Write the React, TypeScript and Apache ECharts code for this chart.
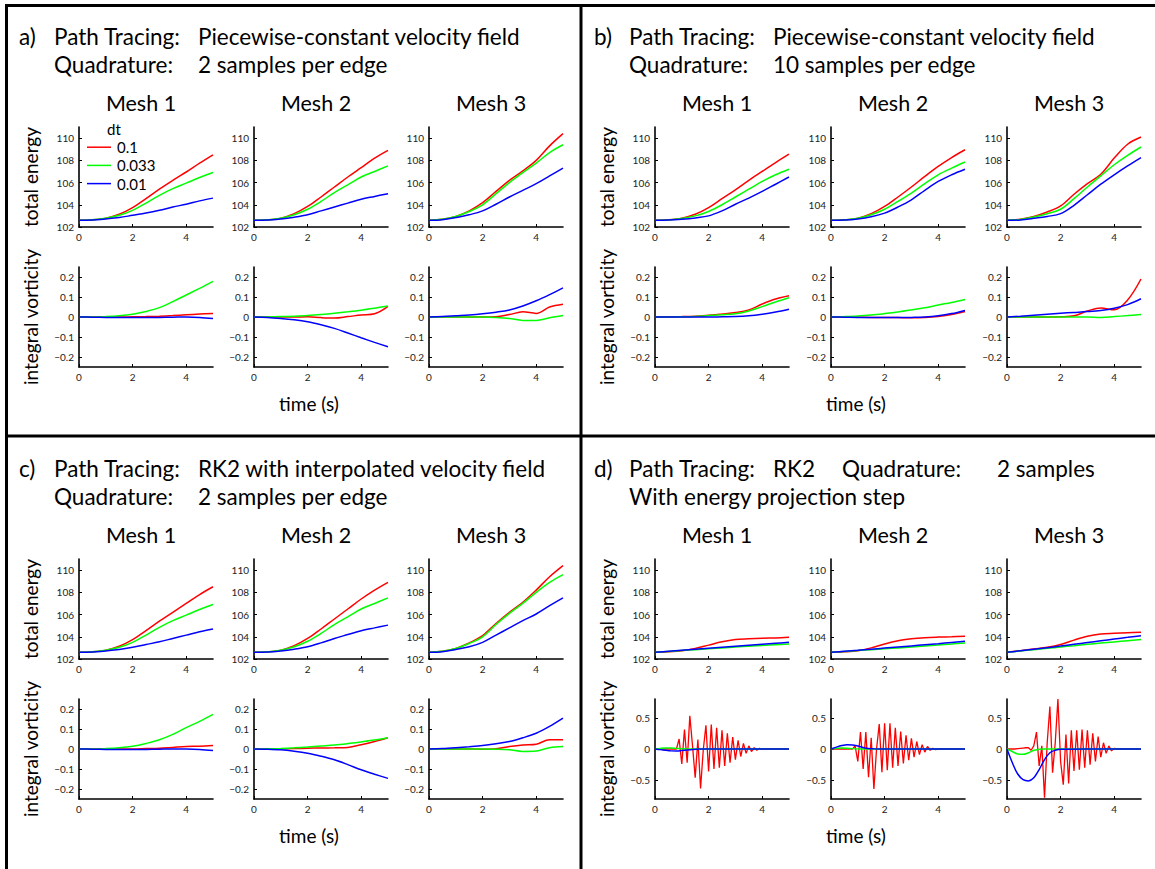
import React, { useEffect, useRef } from "react";
import * as echarts from "echarts";

// ---------- time grids ----------
const TIME = [0, 0.5, 1, 1.5, 2, 2.5, 3, 3.5, 4, 4.5, 5];
const TIME_FINE = [
  0, 0.1, 0.2, 0.3, 0.4, 0.5, 0.6, 0.7, 0.8, 0.9, 1, 1.1, 1.2, 1.3, 1.4, 1.5, 1.6, 1.7, 1.8, 1.9, 2,
  2.1, 2.2, 2.3, 2.4, 2.5, 2.6, 2.7, 2.8, 2.9, 3, 3.1, 3.2, 3.3, 3.4, 3.5, 3.6, 3.7, 3.8, 3.9, 4,
  4.1, 4.2, 4.3, 4.4, 4.5, 4.6, 4.7, 4.8, 4.9, 5,
];
const TIME_D = [0, 0.2, 0.4, 0.6, 0.8, 1, 1.2, 1.4, 1.6, 1.8, 2, 3, 4, 5];

// ---------- labels / ticks ----------
const DT_LABELS = ["0.1", "0.033", "0.01"];
const DT_COLORS = ["#ff0000", "#00ff00", "#0000ff"];
const MESH_LABELS = ["Mesh 1", "Mesh 2", "Mesh 3"];
const TIME_TICKS = [0, 2, 4];
const ENERGY_TICKS = [102, 104, 106, 108, 110];
const VORT_TICKS = [-0.2, -0.1, 0, 0.1, 0.2];
const VORT_TICKS_D = [-0.5, 0, 0.5];

// ---------- panel a : total energy (red dt=0.1, green 0.033, blue 0.01) ----------
const A_E1_RED = [102.6, 102.65, 102.8, 103.15, 103.75, 104.55, 105.4, 106.2, 106.95, 107.75, 108.5];
const A_E1_GREEN = [102.6, 102.65, 102.78, 103.05, 103.5, 104.15, 104.85, 105.45, 105.95, 106.45, 106.9];
const A_E1_BLUE = [102.6, 102.62, 102.72, 102.85, 103.05, 103.25, 103.5, 103.8, 104.05, 104.35, 104.6];
const A_E2_RED = [102.6, 102.65, 102.8, 103.2, 103.85, 104.7, 105.6, 106.5, 107.35, 108.2, 108.9];
const A_E2_GREEN = [102.6, 102.65, 102.78, 103.1, 103.6, 104.3, 105.1, 105.8, 106.5, 107.0, 107.5];
const A_E2_BLUE = [102.6, 102.62, 102.72, 102.88, 103.1, 103.45, 103.8, 104.15, 104.5, 104.75, 105.0];
const A_E3_RED = [102.6, 102.7, 102.95, 103.45, 104.2, 105.2, 106.2, 107.05, 108.0, 109.3, 110.4];
const A_E3_GREEN = [102.6, 102.7, 102.95, 103.4, 104.0, 105.0, 106.0, 106.9, 107.75, 108.7, 109.4];
const A_E3_BLUE = [102.6, 102.65, 102.85, 103.1, 103.45, 104.05, 104.7, 105.3, 105.9, 106.6, 107.3];

// ---------- panel a : integral vorticity ----------
const A_V1_RED = [0, 0, 0, 0, 0.001, 0.002, 0.004, 0.007, 0.011, 0.015, 0.018];
const A_V1_GREEN = [0, 0, 0.002, 0.006, 0.014, 0.028, 0.047, 0.077, 0.11, 0.143, 0.178];
const A_V1_BLUE = [0, -0.001, -0.002, -0.003, -0.003, -0.003, -0.002, -0.001, 0, -0.002, -0.007];
const A_V2_RED = [0, 0, 0, 0, 0.001, -0.003, -0.005, 0.002, 0.01, 0.016, 0.053];
const A_V2_GREEN = [0, 0.0005, 0.002, 0.004, 0.007, 0.012, 0.019, 0.026, 0.034, 0.044, 0.055];
const A_V2_BLUE = [0, -0.002, -0.007, -0.014, -0.024, -0.039, -0.057, -0.08, -0.104, -0.127, -0.149];
const A_V3_RED = [0, 0, 0, 0, 0, 0.001, 0.012, 0.026, 0.018, 0.05, 0.064];
const A_V3_GREEN = [0, 0, 0, 0, 0, -0.002, -0.007, -0.017, -0.017, -0.004, 0.007];
const A_V3_BLUE = [0, 0.002, 0.006, 0.01, 0.016, 0.024, 0.035, 0.055, 0.081, 0.112, 0.146];

// ---------- panel b : total energy ----------
const B_E1_RED = [102.6, 102.65, 102.8, 103.15, 103.75, 104.55, 105.35, 106.2, 107.0, 107.8, 108.55];
const B_E1_GREEN = [102.6, 102.64, 102.77, 103.0, 103.4, 104.0, 104.7, 105.4, 106.1, 106.7, 107.2];
const B_E1_BLUE = [102.6, 102.62, 102.7, 102.82, 103.0, 103.45, 104.05, 104.6, 105.2, 105.85, 106.5];
const B_E2_RED = [102.6, 102.65, 102.8, 103.2, 103.85, 104.7, 105.6, 106.55, 107.45, 108.25, 108.95];
const B_E2_GREEN = [102.6, 102.64, 102.78, 103.1, 103.6, 104.3, 105.05, 105.9, 106.7, 107.3, 107.85];
const B_E2_BLUE = [102.6, 102.62, 102.72, 102.92, 103.25, 103.8, 104.45, 105.3, 106.1, 106.7, 107.2];
const B_E3_RED = [102.6, 102.7, 102.95, 103.35, 103.9, 104.95, 105.9, 106.75, 108.2, 109.45, 110.1];
const B_E3_GREEN = [102.6, 102.68, 102.9, 103.2, 103.6, 104.55, 105.6, 106.6, 107.6, 108.45, 109.2];
const B_E3_BLUE = [102.6, 102.64, 102.78, 102.95, 103.2, 103.95, 104.9, 105.85, 106.7, 107.5, 108.25];

// ---------- panel b : integral vorticity ----------
const B_V1_RED = [0, 0.001, 0.002, 0.004, 0.009, 0.015, 0.022, 0.035, 0.065, 0.09, 0.106];
const B_V1_GREEN = [0, 0, 0.001, 0.003, 0.007, 0.011, 0.016, 0.03, 0.052, 0.075, 0.096];
const B_V1_BLUE = [0, 0, 0, 0, 0, 0.001, 0.002, 0.006, 0.014, 0.025, 0.039];
const B_V2_RED = [0, 0, -0.001, -0.002, -0.002, -0.003, -0.004, -0.002, 0.003, 0.012, 0.027];
const B_V2_GREEN = [0, 0.002, 0.005, 0.01, 0.017, 0.025, 0.035, 0.046, 0.06, 0.073, 0.088];
const B_V2_BLUE = [0, -0.001, -0.002, -0.002, -0.003, -0.003, -0.002, 0, 0.006, 0.017, 0.033];
const B_V3_RED = [0, 0, 0, 0, 0.001, 0.006, 0.03, 0.045, 0.036, 0.085, 0.19];
const B_V3_GREEN = [0, 0, 0, 0, 0, 0, 0, -0.002, 0.002, 0.007, 0.013];
const B_V3_BLUE = [0, 0.004, 0.009, 0.014, 0.019, 0.023, 0.027, 0.033, 0.044, 0.062, 0.091];

// ---------- panel c : total energy ----------
const C_E1_RED = [102.6, 102.65, 102.8, 103.15, 103.75, 104.55, 105.4, 106.2, 107.0, 107.8, 108.5];
const C_E1_GREEN = [102.6, 102.65, 102.78, 103.05, 103.5, 104.15, 104.85, 105.45, 105.95, 106.45, 106.9];
const C_E1_BLUE = [102.6, 102.62, 102.72, 102.85, 103.05, 103.3, 103.55, 103.85, 104.15, 104.45, 104.7];
const C_E2_RED = [102.6, 102.65, 102.8, 103.2, 103.85, 104.7, 105.6, 106.5, 107.4, 108.2, 108.9];
const C_E2_GREEN = [102.6, 102.65, 102.78, 103.1, 103.6, 104.3, 105.1, 105.8, 106.5, 107.0, 107.5];
const C_E2_BLUE = [102.6, 102.62, 102.72, 102.88, 103.1, 103.45, 103.85, 104.2, 104.55, 104.8, 105.05];
const C_E3_RED = [102.6, 102.7, 102.95, 103.45, 104.1, 105.2, 106.2, 107.1, 108.2, 109.4, 110.4];
const C_E3_GREEN = [102.6, 102.7, 102.95, 103.4, 104.0, 105.1, 106.1, 107.0, 108.0, 108.9, 109.6];
const C_E3_BLUE = [102.6, 102.65, 102.85, 103.1, 103.5, 104.15, 104.8, 105.45, 106.05, 106.8, 107.5];

// ---------- panel c : integral vorticity ----------
const C_V1_RED = [0, 0, 0, 0, 0, 0.002, 0.004, 0.008, 0.012, 0.014, 0.017];
const C_V1_GREEN = [0, 0, 0.002, 0.006, 0.014, 0.028, 0.046, 0.073, 0.107, 0.138, 0.173];
const C_V1_BLUE = [0, -0.001, -0.002, -0.003, -0.003, -0.002, -0.001, 0, 0, -0.002, -0.007];
const C_V2_RED = [0, 0, 0.001, 0.002, 0.004, 0.005, 0.006, 0.008, 0.021, 0.037, 0.056];
const C_V2_GREEN = [0, 0.001, 0.003, 0.006, 0.01, 0.015, 0.02, 0.027, 0.035, 0.045, 0.056];
const C_V2_BLUE = [0, -0.001, -0.004, -0.011, -0.021, -0.036, -0.054, -0.078, -0.104, -0.126, -0.147];
const C_V3_RED = [0, 0, 0, 0, -0.001, 0.001, 0.012, 0.02, 0.024, 0.046, 0.046];
const C_V3_GREEN = [0, 0, 0, 0, 0, -0.001, -0.004, -0.012, -0.01, 0.006, 0.012];
const C_V3_BLUE = [0, 0.002, 0.006, 0.011, 0.017, 0.026, 0.037, 0.056, 0.079, 0.113, 0.154];

// ---------- panel d : total energy ----------
const D_E1_RED = [102.6, 102.65, 102.75, 102.95, 103.25, 103.55, 103.75, 103.82, 103.87, 103.9, 103.95];
const D_E1_GREEN = [102.6, 102.68, 102.76, 102.84, 102.92, 103.0, 103.08, 103.15, 103.22, 103.29, 103.35];
const D_E1_BLUE = [102.6, 102.69, 102.78, 102.87, 102.96, 103.05, 103.14, 103.23, 103.32, 103.41, 103.5];
const D_E2_RED = [102.6, 102.65, 102.75, 103.0, 103.35, 103.65, 103.82, 103.92, 103.97, 104.0, 104.05];
const D_E2_GREEN = [102.6, 102.68, 102.76, 102.84, 102.92, 103.0, 103.08, 103.17, 103.26, 103.35, 103.45];
const D_E2_BLUE = [102.6, 102.69, 102.78, 102.88, 102.98, 103.08, 103.18, 103.28, 103.38, 103.49, 103.6];
const D_E3_RED = [102.6, 102.75, 102.9, 103.05, 103.3, 103.7, 104.05, 104.25, 104.32, 104.37, 104.4];
const D_E3_GREEN = [102.6, 102.72, 102.84, 102.96, 103.08, 103.2, 103.32, 103.43, 103.54, 103.65, 103.75];
const D_E3_BLUE = [102.6, 102.74, 102.88, 103.02, 103.16, 103.32, 103.48, 103.64, 103.8, 103.95, 104.1];

// ---------- panel d : integral vorticity (red on TIME_FINE, green/blue on TIME_D) ----------
const D_V1_RED = [
  0, 0, 0, 0, 0, 0, 0, 0, 0,
  0.16, -0.24, 0.31, -0.22, 0.53, 0.05, -0.46, 0.15, -0.63, -0.02, 0.38, -0.36, 0.39, -0.32, 0.34, -0.3,
  0.3, -0.27, 0.25, -0.22, 0.19, -0.17, 0.14, -0.12, 0.09, -0.07, 0.05, -0.04, 0.02, -0.02, 0.01, -0.005,
  0, 0, 0, 0, 0, 0, 0, 0, 0, 0,
];
const D_V1_GREEN = [0, 0.01, 0.015, 0.015, 0.01, 0.004, 0.001, 0, 0, 0, 0, 0, 0, 0];
const D_V1_BLUE = [0, -0.01, -0.02, -0.03, -0.032, -0.025, -0.015, -0.007, -0.003, 0, 0, 0, 0, 0];
const D_V2_RED = [
  0, 0, 0, 0, 0, 0, 0, 0, 0,
  0.05, -0.2, 0.27, -0.32, 0.27, -0.45, 0.18, -0.64, 0.0, 0.4, -0.37, 0.41, -0.34, 0.41, -0.3, 0.34,
  -0.27, 0.28, -0.23, 0.22, -0.18, 0.17, -0.13, 0.12, -0.09, 0.07, -0.05, 0.04, -0.02, 0.01, -0.01, 0,
  0, 0, 0, 0, 0, 0, 0, 0, 0, 0,
];
const D_V2_GREEN = [0, 0.01, 0.015, 0.012, 0.006, 0.002, 0, 0, 0, 0, 0, 0, 0, 0];
const D_V2_BLUE = [0, 0.03, 0.055, 0.068, 0.065, 0.048, 0.025, 0.008, 0.002, 0, 0, 0, 0, 0];
const D_V3_RED = [
  0, 0, 0, 0, 0.005, 0.01, 0.015, 0.02, 0.02,
  -0.02, 0.05, 0.27, -0.27, 0.05, -0.78, 0.1, 0.68, -0.38, 0.1, 0.8, -0.2, -0.57, 0.23, -0.55, 0.3,
  -0.35, 0.3, -0.33, 0.31, -0.3, 0.3, -0.25, 0.25, -0.2, 0.2, -0.13, 0.1, -0.07, 0.05, -0.03, 0.01,
  0, 0, 0, 0, 0, 0, 0, 0, 0, 0,
];
const D_V3_GREEN = [0, -0.04, -0.08, -0.085, -0.06, -0.02, -0.005, 0, 0, 0, 0, 0, 0, 0];
const D_V3_BLUE = [0, -0.22, -0.4, -0.49, -0.51, -0.46, -0.33, -0.17, -0.06, -0.02, -0.005, 0, 0, 0];

// ---------- panel texts ----------
const PANEL_LETTERS = ["a)", "b)", "c)", "d)"];
const PANEL_TEXT_A = ["Path Tracing:", "Piecewise-constant velocity field", "Quadrature:", "2 samples per edge"];
const PANEL_TEXT_B = ["Path Tracing:", "Piecewise-constant velocity field", "Quadrature:", "10 samples per edge"];
const PANEL_TEXT_C = ["Path Tracing:", "RK2 with interpolated velocity field", "Quadrature:", "2 samples per edge"];
const PANEL_TEXT_D = ["Path Tracing:", "RK2", "Quadrature:", "2 samples", "With energy projection step"];
const Y_NAME_ENERGY = "total energy";
const Y_NAME_VORT = "integral vorticity";
const X_NAME = "time (s)";
const LEGEND_TITLE = "dt";

type Curve = { t: number[]; v: number[] };
const c = (t: number[], v: number[]): Curve => ({ t, v });

const PANELS = [
  {
    energy: [
      [c(TIME, A_E1_RED), c(TIME, A_E1_GREEN), c(TIME, A_E1_BLUE)],
      [c(TIME, A_E2_RED), c(TIME, A_E2_GREEN), c(TIME, A_E2_BLUE)],
      [c(TIME, A_E3_RED), c(TIME, A_E3_GREEN), c(TIME, A_E3_BLUE)],
    ],
    vort: [
      [c(TIME, A_V1_RED), c(TIME, A_V1_GREEN), c(TIME, A_V1_BLUE)],
      [c(TIME, A_V2_RED), c(TIME, A_V2_GREEN), c(TIME, A_V2_BLUE)],
      [c(TIME, A_V3_RED), c(TIME, A_V3_GREEN), c(TIME, A_V3_BLUE)],
    ],
    big: false,
  },
  {
    energy: [
      [c(TIME, B_E1_RED), c(TIME, B_E1_GREEN), c(TIME, B_E1_BLUE)],
      [c(TIME, B_E2_RED), c(TIME, B_E2_GREEN), c(TIME, B_E2_BLUE)],
      [c(TIME, B_E3_RED), c(TIME, B_E3_GREEN), c(TIME, B_E3_BLUE)],
    ],
    vort: [
      [c(TIME, B_V1_RED), c(TIME, B_V1_GREEN), c(TIME, B_V1_BLUE)],
      [c(TIME, B_V2_RED), c(TIME, B_V2_GREEN), c(TIME, B_V2_BLUE)],
      [c(TIME, B_V3_RED), c(TIME, B_V3_GREEN), c(TIME, B_V3_BLUE)],
    ],
    big: false,
  },
  {
    energy: [
      [c(TIME, C_E1_RED), c(TIME, C_E1_GREEN), c(TIME, C_E1_BLUE)],
      [c(TIME, C_E2_RED), c(TIME, C_E2_GREEN), c(TIME, C_E2_BLUE)],
      [c(TIME, C_E3_RED), c(TIME, C_E3_GREEN), c(TIME, C_E3_BLUE)],
    ],
    vort: [
      [c(TIME, C_V1_RED), c(TIME, C_V1_GREEN), c(TIME, C_V1_BLUE)],
      [c(TIME, C_V2_RED), c(TIME, C_V2_GREEN), c(TIME, C_V2_BLUE)],
      [c(TIME, C_V3_RED), c(TIME, C_V3_GREEN), c(TIME, C_V3_BLUE)],
    ],
    big: false,
  },
  {
    energy: [
      [c(TIME, D_E1_RED), c(TIME, D_E1_GREEN), c(TIME, D_E1_BLUE)],
      [c(TIME, D_E2_RED), c(TIME, D_E2_GREEN), c(TIME, D_E2_BLUE)],
      [c(TIME, D_E3_RED), c(TIME, D_E3_GREEN), c(TIME, D_E3_BLUE)],
    ],
    vort: [
      [c(TIME_FINE, D_V1_RED), c(TIME_D, D_V1_GREEN), c(TIME_D, D_V1_BLUE)],
      [c(TIME_FINE, D_V2_RED), c(TIME_D, D_V2_GREEN), c(TIME_D, D_V2_BLUE)],
      [c(TIME_FINE, D_V3_RED), c(TIME_D, D_V3_GREEN), c(TIME_D, D_V3_BLUE)],
    ],
    big: true,
  },
];

const FONT = "Lato, 'Noto Sans', sans-serif";

function fmtTick(v: number): string {
  if (v === 0) return "0";
  const s = String(Math.round(v * 1000) / 1000);
  return s.replace("-", "\u2212");
}

function buildOption() {
  const grids: any[] = [];
  const xAxes: any[] = [];
  const yAxes: any[] = [];
  const series: any[] = [];
  const graphic: any[] = [];

  const W = 134;
  const H = 100;

  PANELS.forEach((p, pi) => {
    const right = pi % 2 === 1;
    const lower = pi >= 2;
    const lefts = right ? [655, 831, 1007] : [79, 254, 429];
    const eTop = lower ? 559 : 127;
    const vTop = lower ? 699 : 267;

    for (let m = 0; m < 3; m++) {
      for (let row = 0; row < 2; row++) {
        const idx = grids.length;
        const isE = row === 0;
        grids.push({
          left: lefts[m],
          top: isE ? eTop : vTop,
          width: W,
          height: H,
          containLabel: false,
          outerBoundsMode: "none",
        });
        xAxes.push({
          type: "value",
          gridIndex: idx,
          min: 0,
          max: 5,
          axisLine: { show: true, onZero: false, lineStyle: { color: "#000", width: 1.6 } },
          axisTick: { show: true, inside: true, length: 3, customValues: TIME_TICKS, lineStyle: { color: "#000", width: 1 } },
          axisLabel: { show: true, customValues: TIME_TICKS, fontSize: 10, color: "#222", margin: 5, fontFamily: FONT },
          splitLine: { show: false },
        });
        const yTicks = isE ? ENERGY_TICKS : p.big ? VORT_TICKS_D : VORT_TICKS;
        yAxes.push({
          type: "value",
          gridIndex: idx,
          min: isE ? 102 : p.big ? -0.8 : -0.25,
          max: isE ? 111 : p.big ? 0.8 : 0.25,
          axisLine: { show: true, onZero: false, lineStyle: { color: "#000", width: 1.6 } },
          axisTick: { show: true, inside: true, length: 3, customValues: yTicks, lineStyle: { color: "#000", width: 1 } },
          axisLabel: {
            show: true,
            customValues: yTicks,
            fontSize: 10,
            color: "#222",
            margin: 5,
            fontFamily: FONT,
            formatter: (v: number) => fmtTick(v),
          },
          splitLine: { show: false },
        });
        const curves = isE ? p.energy[m] : p.vort[m];
        curves.forEach((cv, k) => {
          const zig = p.big && !isE && k === 0;
          series.push({
            type: "line",
            xAxisIndex: idx,
            yAxisIndex: idx,
            data: cv.t.map((t, i) => [t, cv.v[i]]),
            showSymbol: false,
            symbol: "none",
            smooth: zig ? false : 0.35,
            clip: true,
            lineStyle: { color: DT_COLORS[k], width: zig ? 1.3 : 1.5 },
            itemStyle: { color: DT_COLORS[k] },
            z: 2 + k,
          });
        });
      }
    }

    // Mesh titles
    const meshY = lower ? 535 : 103;
    for (let m = 0; m < 3; m++) {
      graphic.push({
        type: "text",
        x: lefts[m] + W / 2 - 5,
        y: meshY,
        style: { text: MESH_LABELS[m], font: `21.5px ${FONT}`, fill: "#000", textAlign: "center", textVerticalAlign: "middle" },
      });
    }
    // Y-axis names
    const nameX = right ? 606 : 30;
    graphic.push({
      type: "text",
      x: nameX,
      y: eTop + H / 2,
      rotation: Math.PI / 2,
      style: { text: Y_NAME_ENERGY, font: `19px ${FONT}`, fill: "#000", textAlign: "center", textVerticalAlign: "middle" },
    });
    graphic.push({
      type: "text",
      x: nameX,
      y: vTop + H / 2,
      rotation: Math.PI / 2,
      style: { text: Y_NAME_VORT, font: `19px ${FONT}`, fill: "#000", textAlign: "center", textVerticalAlign: "middle" },
    });
    // X name
    graphic.push({
      type: "text",
      x: right ? 856 : 309,
      y: lower ? 835 : 403,
      style: { text: X_NAME, font: `19px ${FONT}`, fill: "#000", textAlign: "center", textVerticalAlign: "middle" },
    });

    // Panel heading
    const off = right ? 575 : 0;
    const y1 = lower ? 468 : 36;
    const y2 = lower ? 496 : 64;
    const hs = { font: `22.5px ${FONT}`, fill: "#000", textVerticalAlign: "middle" };
    graphic.push({ type: "text", x: 19 + off, y: y1, style: { ...hs, text: PANEL_LETTERS[pi] } });
    if (pi < 3) {
      const txt = pi === 0 ? PANEL_TEXT_A : pi === 1 ? PANEL_TEXT_B : PANEL_TEXT_C;
      graphic.push({ type: "text", x: 54 + off, y: y1, style: { ...hs, text: txt[0] } });
      graphic.push({ type: "text", x: 198 + off, y: y1, style: { ...hs, text: txt[1] } });
      graphic.push({ type: "text", x: 54 + off, y: y2, style: { ...hs, text: txt[2] } });
      graphic.push({ type: "text", x: 198 + off, y: y2, style: { ...hs, text: txt[3] } });
    } else {
      const txt = PANEL_TEXT_D;
      graphic.push({ type: "text", x: 54 + off, y: y1, style: { ...hs, text: txt[0] } });
      graphic.push({ type: "text", x: 198 + off, y: y1, style: { ...hs, text: txt[1] } });
      graphic.push({ type: "text", x: 267 + off, y: y1, style: { ...hs, text: txt[2] } });
      graphic.push({ type: "text", x: 422 + off, y: y1, style: { ...hs, text: txt[3] } });
      graphic.push({ type: "text", x: 54 + off, y: y2, style: { ...hs, text: txt[4] } });
    }
  });

  // Legend (panel a, Mesh 1)
  const LEG_STEP = 18.2;
  const LEG_Y0 = 129;
  const legFont = `15px ${FONT}`;
  graphic.push({
    type: "text",
    x: 107,
    y: LEG_Y0,
    style: { text: LEGEND_TITLE, font: legFont, fill: "#000", textVerticalAlign: "middle" },
  });
  DT_LABELS.forEach((lab, k) => {
    const y = LEG_Y0 + LEG_STEP * (k + 1);
    graphic.push({ type: "line", shape: { x1: 87, y1: y, x2: 111, y2: y }, style: { stroke: DT_COLORS[k], lineWidth: 1.5 } });
    graphic.push({
      type: "text",
      x: 117,
      y,
      style: { text: lab, font: legFont, fill: "#000", textVerticalAlign: "middle" },
    });
  });

  // Frame lines
  const fr = { stroke: "#000", lineWidth: 3 };
  graphic.push({ type: "line", shape: { x1: 5, y1: 5.5, x2: 1160, y2: 5.5 }, style: fr });
  graphic.push({ type: "line", shape: { x1: 6.5, y1: 4, x2: 6.5, y2: 875 }, style: fr });
  graphic.push({ type: "line", shape: { x1: 581, y1: 4, x2: 581, y2: 875 }, style: fr });
  graphic.push({ type: "line", shape: { x1: 5, y1: 436, x2: 1160, y2: 436 }, style: fr });

  return {
    animation: false,
    backgroundColor: "#fff",
    grid: grids,
    xAxis: xAxes,
    yAxis: yAxes,
    series,
    graphic: { elements: graphic },
  };
}

export default function App() {
  const ref = useRef<HTMLDivElement>(null);
  useEffect(() => {
    if (!ref.current) return;
    const chart = echarts.init(ref.current, undefined, { renderer: "svg" });
    chart.setOption(buildOption() as any);
    return () => chart.dispose();
  }, []);
  return (
    <div
      ref={ref}
      style={{ position: "fixed", left: 0, top: 0, width: 1155, height: 869, background: "#fff" }}
    />
  );
}
